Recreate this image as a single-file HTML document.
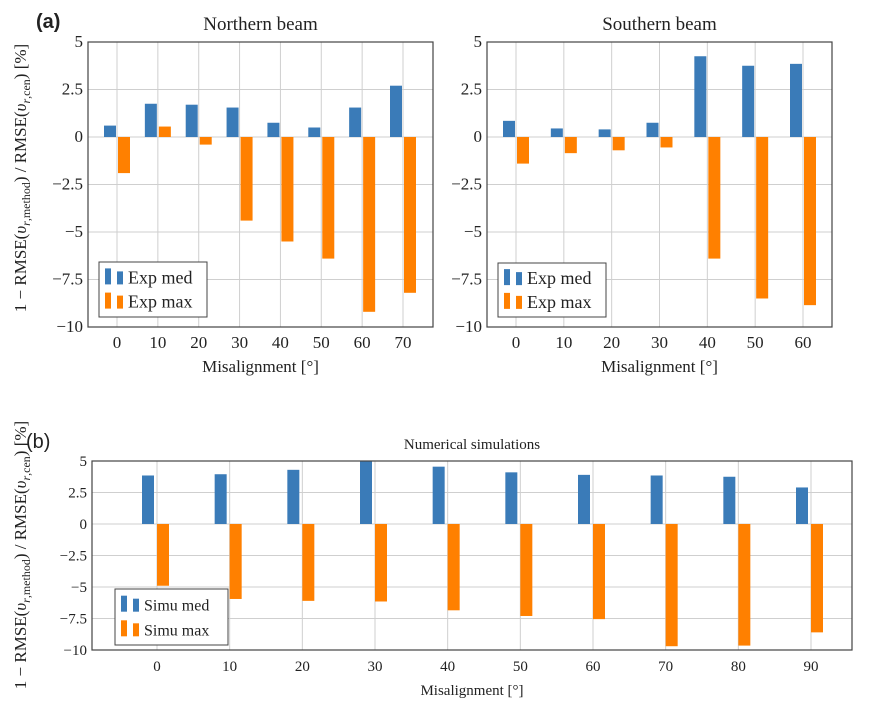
<!DOCTYPE html>
<html><head><meta charset="utf-8"><style>
body{margin:0;background:#fff}
svg text{font-family:"Liberation Serif",serif;fill:#222}
</style></head><body>
<svg id="c" width="880" height="719" xmlns="http://www.w3.org/2000/svg">
<text x="36" y="28" style="font-family:'Liberation Sans',sans-serif;font-weight:bold;font-size:20px">(a)</text>
<text x="26" y="448" style="font-family:'Liberation Sans',sans-serif;font-size:20px">(b)</text>
</svg>
<script>
const northCats=[0,10,20,30,40,50,60,70];
const northMed=[0.6,1.75,1.7,1.55,0.75,0.5,1.55,2.7];
const northMax=[-1.9,0.55,-0.4,-4.4,-5.5,-6.4,-9.2,-8.2];
const southCats=[0,10,20,30,40,50,60];
const southMed=[0.85,0.45,0.4,0.75,4.25,3.75,3.85];
const southMax=[-1.4,-0.85,-0.7,-0.55,-6.4,-8.5,-8.85];
const simCats=[0,10,20,30,40,50,60,70,80,90];
const simMed=[3.85,3.95,4.3,5,4.55,4.1,3.9,3.85,3.75,2.9];
const simMax=[-4.9,-5.95,-6.1,-6.15,-6.85,-7.3,-7.55,-9.7,-9.65,-8.6];
const yTicks=[5,2.5,0,-2.5,-5,-7.5,-10];
const yTickLabels=["5","2.5","0","\u22122.5","\u22125","\u22127.5","\u221210"];
const BLUE="#3a7bb8",ORANGE="#ff8000";
const svg=document.getElementById('c');
const NS="http://www.w3.org/2000/svg";
function mk(tag,attrs,parent){const e=document.createElementNS(NS,tag);for(const k in attrs)e.setAttribute(k,attrs[k]);(parent||svg).appendChild(e);return e;}
function panel(o){
  const g=mk('g',{});
  
  
  const ys=v=>o.y0+(5-v)/15*(o.y1-o.y0);
  const xs=c=>o.cx0+(c-o.cats[0])/(o.cats[o.cats.length-1]-o.cats[0])*(o.cx1-o.cx0);
  yTicks.forEach((t,i)=>{
    const l=mk('line',{x1:o.x0,x2:o.x1,y1:ys(t),y2:ys(t),stroke:'#cfcfcf','stroke-width':1},g);
    
    
    const tx=mk('text',{x:o.x0-5,y:ys(t)+5,'text-anchor':'end','font-size':o.fs},g);
    tx.textContent=yTickLabels[i];
    
    
  });
  o.cats.forEach(c=>{
    const l=mk('line',{x1:xs(c),x2:xs(c),y1:o.y0,y2:o.y1,stroke:'#cfcfcf','stroke-width':1},g);
    
    
    const tx=mk('text',{x:xs(c),y:o.y1+21,'text-anchor':'middle','font-size':o.fs},g);
    tx.textContent=String(c);
    
    
  });
  o.cats.forEach((c,i)=>{
    [[o.med[i],o.bo,BLUE,'bar-med'],[o.max[i],o.oo,ORANGE,'bar-max']].forEach(([v,off,col,nm])=>{
      const y=Math.min(ys(0),ys(v)),h=Math.abs(ys(v)-ys(0));
      const r=mk('rect',{x:xs(c)+off,y:y,width:o.bw,height:h,fill:col},g);
      
      
    });
  });
  const fr=mk('rect',{x:o.x0,y:o.y0,width:o.x1-o.x0,height:o.y1-o.y0,fill:'none',stroke:'#444','stroke-width':1.2},g);
  
  
  const t=mk('text',{x:(o.x0+o.x1)/2,y:o.y0-12,'text-anchor':'middle','font-size':o.tfs},g);
  t.textContent=o.title;
  
  
  const xl=mk('text',{x:(o.x0+o.x1)/2,y:o.y1+45,'text-anchor':'middle','font-size':o.fs},g);
  xl.textContent='Misalignment [°]';
  
  
  const L=o.leg;
  const lg=mk('g',{},g);
  
  
  mk('rect',{x:L.x,y:L.y,width:L.w,height:L.h,fill:'#fff',stroke:'#444','stroke-width':1},lg);
  [[BLUE,o.labels[0],L.y+L.h*0.28],[ORANGE,o.labels[1],L.y+L.h*0.72]].forEach(([col,lab,cy],k)=>{
    mk('rect',{x:L.x+6,y:cy-9,width:6,height:16,fill:col},lg);
    mk('rect',{x:L.x+18,y:cy-6,width:6,height:13,fill:col},lg);
    const tx=mk('text',{x:L.x+29,y:cy+6,'font-size':o.fs+1},lg);
    tx.textContent=lab;
    
    
  });
}
panel({name:'northern-beam-chart',title:'Northern beam',cats:northCats,med:northMed,max:northMax,x0:88,x1:433,y0:42,y1:327,cx0:117,cx1:403,bo:-13,oo:1,bw:12,fs:17,tfs:19,labels:['Exp med','Exp max'],leg:{x:99,y:262,w:108,h:55}});
panel({name:'southern-beam-chart',title:'Southern beam',cats:southCats,med:southMed,max:southMax,x0:487,x1:832,y0:42,y1:327,cx0:516,cx1:803,bo:-13,oo:1,bw:12,fs:17,tfs:19,labels:['Exp med','Exp max'],leg:{x:498,y:263,w:108,h:54}});
panel({name:'numerical-simulations-chart',title:'Numerical simulations',cats:simCats,med:simMed,max:simMax,x0:92,x1:852,y0:461,y1:650,cx0:157,cx1:811,bo:-15,oo:0,bw:12,fs:15,tfs:15,labels:['Simu med','Simu max'],leg:{x:115,y:589,w:113,h:56}});
function ylab(cy,name){
  const t=mk('text',{x:0,y:0,'text-anchor':'middle','font-size':17,transform:`translate(26,${cy}) rotate(-90)`});
  t.innerHTML='1 \u2212 RMSE(<tspan font-style="italic">\u03c5</tspan><tspan font-size="12" dy="4"><tspan font-style="italic">r</tspan>,method</tspan><tspan dy="-4">) / RMSE(</tspan><tspan font-style="italic">\u03c5</tspan><tspan font-size="12" dy="4"><tspan font-style="italic">r</tspan>,cen</tspan><tspan dy="-4">) [%]</tspan>';
  
  
}
ylab(178,'y-axis-title-a');
ylab(555,'y-axis-title-b');
</script>
</body></html>
